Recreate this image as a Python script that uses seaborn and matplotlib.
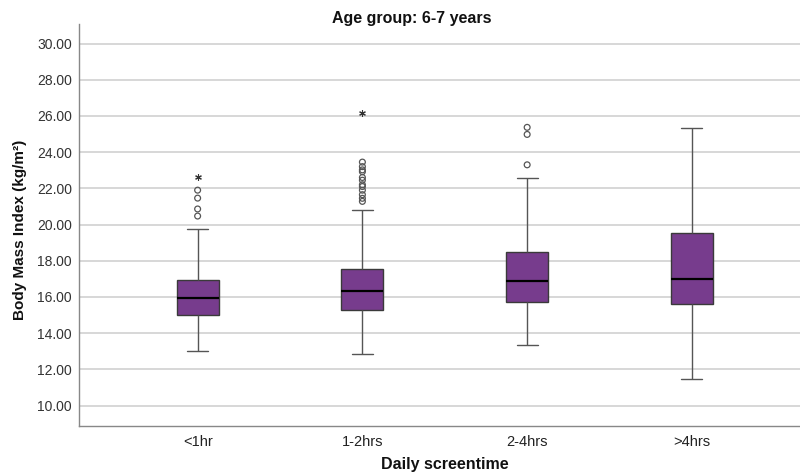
import numpy as np
import pandas as pd
import matplotlib
matplotlib.use("Agg")
import matplotlib.pyplot as plt
import seaborn as sns

# five-number summaries (kg/m2)
groups = ["<1hr", "1-2hrs", "2-4hrs", ">4hrs"]
whisker_low = [13.00, 12.85, 13.36, 11.46]
q1 = [15.02, 15.26, 15.70, 15.59]
median = [15.92, 16.31, 16.90, 16.97]
q3 = [16.93, 17.52, 18.50, 19.55]
whisker_high = [19.75, 20.80, 22.59, 25.31]

# outliers (circles) and extremes (asterisks)
circle_groups = ["<1hr"] * 4 + ["1-2hrs"] * 12 + ["2-4hrs"] * 3
circle_values = [21.90, 21.46, 20.86, 20.47,
                 23.45, 23.20, 23.02, 22.92, 22.60, 22.45, 22.20, 22.10, 21.90, 21.65, 21.45, 21.28,
                 25.37, 24.98, 23.30]
star_groups = ["<1hr", "1-2hrs"]
star_values = [22.64, 26.14]

yticks = np.arange(10, 31, 2)

purple = "#773c8d"

sns.set_theme(style="white")
plt.rcParams["font.family"] = ["Liberation Sans", "DejaVu Sans"]

rows = []
for i, g in enumerate(groups):
    for v in (whisker_low[i], q1[i], median[i], q3[i], whisker_high[i]):
        rows.append({"group": g, "bmi": v})
df = pd.DataFrame(rows)
circles = pd.DataFrame({"group": circle_groups, "bmi": circle_values})
stars = pd.DataFrame({"group": star_groups, "bmi": star_values})

fig = plt.figure(figsize=(8, 4.75), dpi=100)
ax = fig.add_axes([79 / 800, 49 / 475, 721 / 800, 402 / 475])

for y in yticks:
    ax.axhline(y, color="#d4d4d4", linewidth=1.3, zorder=0)

sns.boxplot(data=df, x="group", y="bmi", order=groups, ax=ax,
            whis=(0, 100), showfliers=False, width=0.255,
            color=purple, saturation=1, linecolor="#3a3a3a", linewidth=1,
            whiskerprops=dict(color="#555555", linewidth=1),
            capprops=dict(color="#555555", linewidth=1),
            medianprops=dict(color="black", linewidth=1.6))

sns.stripplot(data=circles, x="group", y="bmi", order=groups, ax=ax,
              jitter=False, marker="o", size=4.2, color="none",
              edgecolor="#555555", linewidth=0.9)
sns.stripplot(data=stars, x="group", y="bmi", order=groups, ax=ax,
              jitter=False, marker=(6, 2, 0), size=4.2, color="#333333",
              edgecolor="#333333", linewidth=0.8)

ax.set_xlim(-0.72, 3.656)
ax.set_ylim(8.87, 31.08)
ax.set_yticks(yticks)
ax.set_yticklabels([f"{v:.2f}" for v in yticks], fontsize=10, color="#333333")
ax.tick_params(axis="x", labelsize=10.5, labelcolor="#222222", length=0, pad=6.5)
ax.tick_params(axis="y", length=0, pad=5)
ax.set_xlabel("")
ax.set_ylabel("")

for side in ("top", "right"):
    ax.spines[side].set_visible(False)
for side in ("left", "bottom"):
    ax.spines[side].set_color("#888888")
    ax.spines[side].set_linewidth(1)

fig.text(412 / 800, 1 - 19 / 475, "Age group: 6-7 years", ha="center", va="center",
         fontsize=11.5, fontweight="bold", color="#111111")
fig.text(445 / 800, 1 - 465 / 475, "Daily screentime", ha="center", va="center",
         fontsize=11.5, fontweight="bold", color="#111111")
fig.text(20 / 800, 1 - 230 / 475, "Body Mass Index (kg/m²)", ha="center", va="center",
         rotation=90, fontsize=11, fontweight="bold", color="#111111")

fig.savefig("out.png", dpi=100)
